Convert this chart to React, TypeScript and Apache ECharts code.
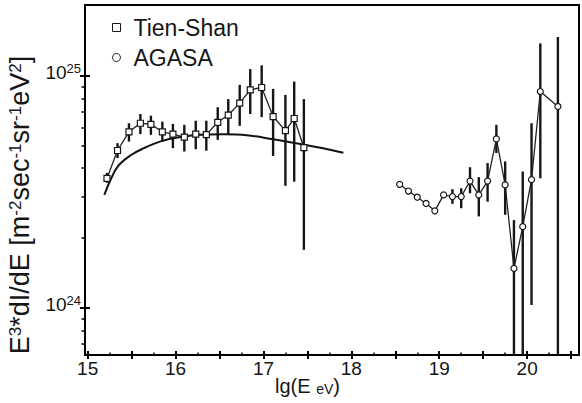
import React, { useEffect, useRef } from "react";
import * as echarts from "echarts";

// ---- Data ----
const tienShanX = [15.22, 15.34, 15.47, 15.6, 15.72, 15.85, 15.97, 16.1, 16.23, 16.35, 16.48, 16.6, 16.73, 16.85, 16.98, 17.11, 17.25, 17.35, 17.46];
const tienShanY = [3.62e24, 4.77e24, 5.74e24, 6.25e24, 6.18e24, 5.74e24, 5.61e24, 5.45e24, 5.61e24, 5.58e24, 6.31e24, 6.78e24, 7.63e24, 8.71e24, 8.91e24, 6.68e24, 5.81e24, 6.55e24, 4.91e24];
const tienShanHigh = [3.82e24, 5.13e24, 6.25e24, 6.85e24, 6.74e24, 6.35e24, 6.21e24, 6.15e24, 6.41e24, 6.41e24, 7.33e24, 7.94e24, 9.14e24, 1.07e25, 1.11e25, 8.79e24, 8.28e24, 9.45e24, 7.94e24];
const tienShanLow = [3.46e24, 4.42e24, 5.21e24, 5.61e24, 5.57e24, 5.21e24, 4.88e24, 4.72e24, 4.83e24, 4.76e24, 5.3e24, 5.57e24, 6.09e24, 6.85e24, 6.64e24, 4.52e24, 3.36e24, 3.5e24, 1.78e24];

const agasaX = [18.55, 18.65, 18.75, 18.85, 18.95, 19.05, 19.15, 19.25, 19.35, 19.45, 19.55, 19.65, 19.75, 19.85, 19.95, 20.05, 20.15, 20.35];
const agasaY = [3.41e24, 3.19e24, 3.0e24, 2.82e24, 2.62e24, 3.07e24, 3.02e24, 3.02e24, 3.52e24, 3.07e24, 3.52e24, 5.35e24, 3.39e24, 1.48e24, 2.24e24, 3.57e24, 8.56e24, 7.38e24];
const agasaHigh = [null, null, null, null, null, null, 3.25e24, 3.28e24, 4.04e24, 3.66e24, 4.21e24, 6.15e24, 4.28e24, 2.39e24, 3.87e24, 6.25e24, 1.38e25, 1.47e25];
const agasaLow = [null, null, null, null, null, null, 2.81e24, 2.69e24, 3.12e24, 2.48e24, 2.87e24, 4.65e24, 2.52e24, 1e23, 1e23, 1.03e24, 3.62e24, 1e23];

const fitX = [15.19, 15.26, 15.35, 15.49, 15.64, 15.83, 16.02, 16.24, 16.55, 16.81, 17.11, 17.46, 17.68, 17.91];
const fitY = [3.07e24, 3.56e24, 4.1e24, 4.55e24, 4.88e24, 5.22e24, 5.43e24, 5.56e24, 5.6e24, 5.55e24, 5.33e24, 5.05e24, 4.88e24, 4.66e24];

const xLabelValues = [15, 16, 17, 18, 19, 20];
const xMajorTickValues = [15, 15.5, 16, 16.5, 17, 17.5, 18, 18.5, 19, 19.5, 20, 20.5];
const xMinorTickValues = [15.25, 15.75, 16.25, 16.75, 17.25, 17.75, 18.25, 18.75, 19.25, 19.75, 20.25];
const yLabelValues = [1e24, 1e25];
const yMinorTickValues = [7e23, 8e23, 9e23, 2e24, 3e24, 4e24, 5e24, 6e24, 7e24, 8e24, 9e24];

const X_MIN = 14.97;
const X_MAX = 20.59;
const Y_MIN = 6.27e23;
const Y_MAX = 2.02e25;

const FONT = "'Liberation Sans', Arial, sans-serif";
const INK = "#161616";

function errorBars(name: string, xs: number[], lo: (number | null)[], hi: (number | null)[]) {
  const data: number[][] = [];
  xs.forEach((x, i) => {
    if (lo[i] != null && hi[i] != null) data.push([x, lo[i] as number, hi[i] as number]);
  });
  return {
    type: "custom",
    name,
    z: 1,
    silent: true,
    data,
    encode: { x: 0, y: [1, 2] },
    renderItem: (params: any, api: any) => {
      const x = api.value(0);
      const p1 = api.coord([x, api.value(1)]);
      const p2 = api.coord([x, api.value(2)]);
      const cs = params.coordSys;
      const top = cs.y;
      const bottom = cs.y + cs.height;
      const clamp = (v: number) => Math.min(Math.max(v, top), bottom);
      return {
        type: "line",
        shape: { x1: p1[0], y1: clamp(p1[1]), x2: p2[0], y2: clamp(p2[1]) },
        style: { stroke: INK, lineWidth: 2.4 },
      };
    },
  };
}

function App() {
  const ref = useRef<HTMLDivElement>(null);
  useEffect(() => {
    if (!ref.current) return;
    const chart = echarts.init(ref.current, undefined, { renderer: "svg" });
    const baseX = { type: "value", min: X_MIN, max: X_MAX, position: "bottom", splitLine: { show: false } };
    const baseY = { type: "log", logBase: 10, min: Y_MIN, max: Y_MAX, position: "left", splitLine: { show: false } };
    chart.setOption({
      animation: false,
      backgroundColor: "#fff",
      textStyle: { fontFamily: FONT },
      grid: {
        left: 85,
        right: 3,
        top: 5,
        bottom: 48,
        show: true,
        borderColor: "#000",
        borderWidth: 2,
        backgroundColor: "transparent",
        containLabel: false,
        outerBoundsMode: "none",
      },
      legend: {
        orient: "vertical",
        left: 107,
        top: 11,
        itemGap: 7,
        itemWidth: 8,
        itemHeight: 8,
        selectedMode: false,
        textStyle: { fontSize: 23, color: INK, fontFamily: FONT, lineHeight: 23, padding: [0, 0, 0, 8] },
        data: [
          { name: "Tien-Shan", icon: "rect", itemStyle: { color: "#fff", borderColor: INK, borderWidth: 1 } },
          { name: "AGASA", icon: "circle", itemStyle: { color: "#fff", borderColor: INK, borderWidth: 1 } },
        ],
      },
      xAxis: [
        {
          ...baseX,
          axisLine: { show: true, lineStyle: { color: "#000", width: 2 } },
          axisTick: { show: true, inside: false, length: 4, customValues: xMajorTickValues, lineStyle: { color: "#000", width: 2 } },
          axisLabel: {
            show: true,
            customValues: xLabelValues,
            fontSize: 19,
            lineHeight: 16,
            color: INK,
            fontFamily: FONT,
            margin: 5,
            formatter: (v: number) => String(v),
          },
          name: "{b|lg(E }{s|eV}{b|)}",
          nameLocation: "middle",
          nameGap: 19,
          nameMoveOverlap: false,
          nameTextStyle: {
            padding: [0, 49, 0, 0],
            rich: {
              b: { fontSize: 20, color: INK, fontFamily: FONT, lineHeight: 22, verticalAlign: "bottom" },
              s: { fontSize: 14, color: INK, fontFamily: FONT, lineHeight: 18, verticalAlign: "bottom" },
            },
          },
        },
        {
          ...baseX,
          axisLine: { show: false },
          axisTick: { show: true, inside: true, length: 4, customValues: xMajorTickValues, lineStyle: { color: "#000", width: 2 } },
          axisLabel: { show: false },
        },
        {
          ...baseX,
          axisLine: { show: false },
          axisTick: { show: true, inside: true, length: 2.5, customValues: xMinorTickValues, lineStyle: { color: "#000", width: 1.5 } },
          axisLabel: { show: false },
        },
      ],
      yAxis: [
        {
          ...baseY,
          axisLine: { show: true, lineStyle: { color: "#000", width: 2 } },
          axisTick: { show: true, inside: false, length: 5, customValues: yLabelValues, lineStyle: { color: "#000", width: 2 } },
          axisLabel: {
            show: true,
            customValues: yLabelValues,
            margin: 4,
            padding: [0, 0, 8, 0],
            formatter: (v: number) => `{b|10}{s|${Math.round(Math.log10(v))}}`,
            rich: {
              b: { fontSize: 19, color: INK, fontFamily: FONT, lineHeight: 20, verticalAlign: "bottom" },
              s: { fontSize: 13, color: INK, fontFamily: FONT, lineHeight: 14, verticalAlign: "top", padding: [0, 0, 10, 0] },
            },
          },
          name: "{b|E}{s|3}{b|*dI/dE [m}{s|-2}{b|sec}{s|-1}{b|sr}{s|-1}{b|eV}{s|2}{b|]}",
          nameLocation: "middle",
          nameRotate: 90,
          nameGap: 52,
          nameMoveOverlap: false,
          nameTextStyle: {
            padding: [0, 50, 0, 0],
            rich: {
              b: { fontSize: 27, color: INK, fontFamily: FONT, lineHeight: 26, verticalAlign: "bottom" },
              s: { fontSize: 17, color: INK, fontFamily: FONT, lineHeight: 16, verticalAlign: "top" },
            },
          },
        },
        {
          ...baseY,
          axisLine: { show: false },
          axisTick: { show: true, inside: false, length: 3.5, customValues: yMinorTickValues, lineStyle: { color: "#000", width: 1.5 } },
          axisLabel: { show: false },
        },
        {
          ...baseY,
          axisLine: { show: false },
          axisTick: { show: true, inside: true, length: 5, customValues: yLabelValues, lineStyle: { color: "#000", width: 2 } },
          axisLabel: { show: false },
        },
      ],
      series: [
        errorBars("Tien-Shan errors", tienShanX, tienShanLow, tienShanHigh),
        errorBars("AGASA errors", agasaX, agasaLow, agasaHigh),
        {
          type: "line",
          name: "fit",
          z: 2,
          silent: true,
          data: fitX.map((x, i) => [x, fitY[i]]),
          smooth: 0.4,
          showSymbol: false,
          symbol: "none",
          lineStyle: { color: "#111", width: 2 },
        },
        {
          type: "line",
          name: "Tien-Shan",
          z: 3,
          silent: true,
          data: tienShanX.map((x, i) => [x, tienShanY[i]]),
          symbol: "rect",
          symbolSize: 6,
          showSymbol: true,
          itemStyle: { color: "#fff", borderColor: INK, borderWidth: 1.2 },
          lineStyle: { color: "#222", width: 1.3 },
        },
        {
          type: "line",
          name: "AGASA",
          z: 3,
          silent: true,
          data: agasaX.map((x, i) => [x, agasaY[i]]),
          symbol: "circle",
          symbolSize: 6,
          showSymbol: true,
          itemStyle: { color: "#fff", borderColor: INK, borderWidth: 1.2 },
          lineStyle: { color: "#222", width: 1.3 },
        },
      ],
    });
    return () => chart.dispose();
  }, []);
  return <div ref={ref} style={{ position: "absolute", left: 0, top: 0, width: 582, height: 403 }} />;
}

export default App;
